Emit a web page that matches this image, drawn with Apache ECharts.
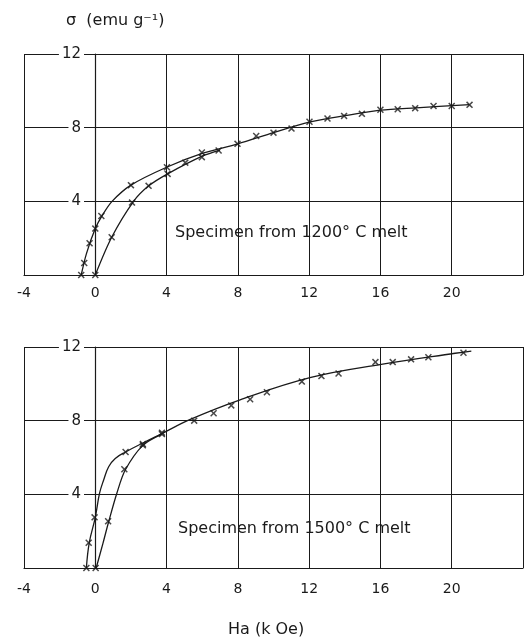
<!DOCTYPE html>
<html>
<head>
<meta charset="utf-8">
<script src="https://cdn.jsdelivr.net/npm/echarts@6/dist/echarts.min.js"></script>
<style>
  html, body { margin: 0; padding: 0; background: #fff; }
  #chart { width: 526px; height: 640px; }
</style>
</head>
<body>
<div id="chart"></div>
<script>
// x ticks (k Oe) and y ticks (emu/g)
const xTicks = [-4, 0, 4, 8, 12, 16, 20]
const yTicks = [4, 8, 12]

// specimen from 1200 C melt - measured points
const top1200Up = [[-0.79, 0], [-0.62, 0.65], [-0.32, 1.72], [0, 2.52], [0.34, 3.2],
  [2.0, 4.88], [4.02, 5.85], [5.05, 6.1], [5.98, 6.65], [6.92, 6.76], [7.98, 7.12],
  [9.03, 7.55], [10.0, 7.73], [11.01, 7.95], [12.02, 8.32], [13.03, 8.5], [13.96, 8.64],
  [14.96, 8.75], [16.0, 8.97], [16.97, 9.0], [17.95, 9.06], [18.98, 9.18], [20.0, 9.18],
  [21.0, 9.24]]
const top1200Down = [[0, 0], [0.92, 2.05], [2.06, 3.93], [2.99, 4.84], [4.06, 5.49], [5.98, 6.4]]
// traced curves
const top1200CurveA = [[-0.79, 0], [-0.5, 1.15], [0, 2.52], [0.4, 3.25], [0.94, 4.0],
  [2.0, 4.88], [4.0, 5.85], [6.0, 6.6], [8.0, 7.12], [10.0, 7.73], [12.0, 8.3],
  [14.0, 8.65], [16.0, 8.95], [18.0, 9.08], [21.0, 9.25]]
const top1200CurveB = [[0, 0], [0.92, 2.05], [2.15, 4.0], [3.0, 4.84], [4.06, 5.49],
  [6.0, 6.45], [7.0, 6.78]]

// specimen from 1500 C melt - measured points
const bot1500Up = [[-0.5, 0], [-0.37, 1.37], [-0.04, 2.75], [1.7, 6.3], [2.67, 6.73],
  [3.74, 7.35], [5.55, 8.0], [6.64, 8.4], [7.63, 8.83], [8.69, 9.16], [9.63, 9.54],
  [11.59, 10.12], [12.69, 10.42], [13.65, 10.56], [15.72, 11.18], [16.69, 11.18],
  [17.72, 11.33], [18.69, 11.44], [20.66, 11.69]]
const bot1500Down = [[0.02, 0], [0.72, 2.54], [1.63, 5.36], [2.67, 6.66], [3.74, 7.27]]
const bot1500CurveA = [[-0.5, 0], [-0.34, 1.37], [0, 2.75], [0.24, 4.06], [0.47, 4.78],
  [0.75, 5.5], [1.12, 5.95], [1.7, 6.3], [2.7, 6.8], [3.74, 7.3], [5.33, 8.07],
  [8.09, 9.12], [12.1, 10.35], [16.13, 11.07], [20.19, 11.66], [21.1, 11.78]]
const bot1500CurveB = [[0.05, 0], [0.43, 1.34], [0.75, 2.51], [1.21, 4.06], [1.68, 5.32],
  [2.67, 6.66], [3.74, 7.27]]

const FONT = 'DejaVu Sans'
const INK = '#1a1a1a'
const cross = 'path://M0,1.5L1.5,0L5,3.5L8.5,0L10,1.5L6.5,5L10,8.5L8.5,10L5,6.5L1.5,10L0,8.5L3.5,5Z'

function xAxisFor(gridIndex, margin) {
  return {
    type: 'value', gridIndex, min: -4, max: 24, interval: 4,
    axisLine: { show: true, lineStyle: { color: INK, width: 1.2 } },
    axisTick: { show: false },
    splitLine: { show: true, lineStyle: { color: INK, width: 1 } },
    axisLabel: {
      margin, color: INK, fontFamily: FONT, fontSize: 14,
      formatter: v => xTicks.includes(v) ? String(v) : ''
    }
  }
}
function yAxisFor(gridIndex) {
  return {
    type: 'value', gridIndex, min: 0, max: 12, interval: 4,
    axisLine: { show: true, lineStyle: { color: INK, width: 1.2 } },
    axisTick: { show: false },
    splitLine: { show: true, lineStyle: { color: INK, width: 1 } },
    axisLabel: {
      inside: true, margin: 60, align: 'right', color: INK, fontFamily: FONT, fontSize: 15,
      backgroundColor: '#fff', padding: [0, 3],
      formatter: v => yTicks.includes(v) ? String(v) : ''
    }
  }
}
function curve(data, xi, smooth) {
  return {
    type: 'line', xAxisIndex: xi, yAxisIndex: xi, data, smooth: smooth || 0.3, showSymbol: false,
    lineStyle: { color: INK, width: 1.3 }, silent: true, z: 3
  }
}
function marks(data, xi) {
  return {
    type: 'scatter', xAxisIndex: xi, yAxisIndex: xi, data, symbol: cross, symbolSize: 7,
    itemStyle: { color: INK }, z: 4
  }
}

const chart = echarts.init(document.getElementById('chart'))
chart.setOption({
  backgroundColor: '#fff',
  animation: false,
  grid: [
    { left: 24, right: 3, top: 54, height: 221 },
    { left: 24, right: 3, top: 347, height: 221 }
  ],
  xAxis: [xAxisFor(0, 11), xAxisFor(1, 14)],
  yAxis: [yAxisFor(0), yAxisFor(1)],
  graphic: [
    { type: 'text', left: 66, top: 13, style: { text: 'σ  (emu g⁻¹)', font: '16px ' + FONT, fill: INK } },
    { type: 'text', left: 175, top: 225, style: { text: 'Specimen from 1200° C melt', font: '16px ' + FONT, fill: INK } },
    { type: 'text', left: 178, top: 521, style: { text: 'Specimen from 1500° C melt', font: '16px ' + FONT, fill: INK } },
    { type: 'text', left: 228, top: 622, style: { text: 'Ha (k Oe)', font: '16px ' + FONT, fill: INK } }
  ],
  series: [
    curve(top1200CurveA, 0), curve(top1200CurveB, 0),
    marks(top1200Up, 0), marks(top1200Down, 0),
    curve(bot1500CurveA, 1, 0.4), curve(bot1500CurveB, 1),
    marks(bot1500Up, 1), marks(bot1500Down, 1)
  ]
})
</script>
</body>
</html>
